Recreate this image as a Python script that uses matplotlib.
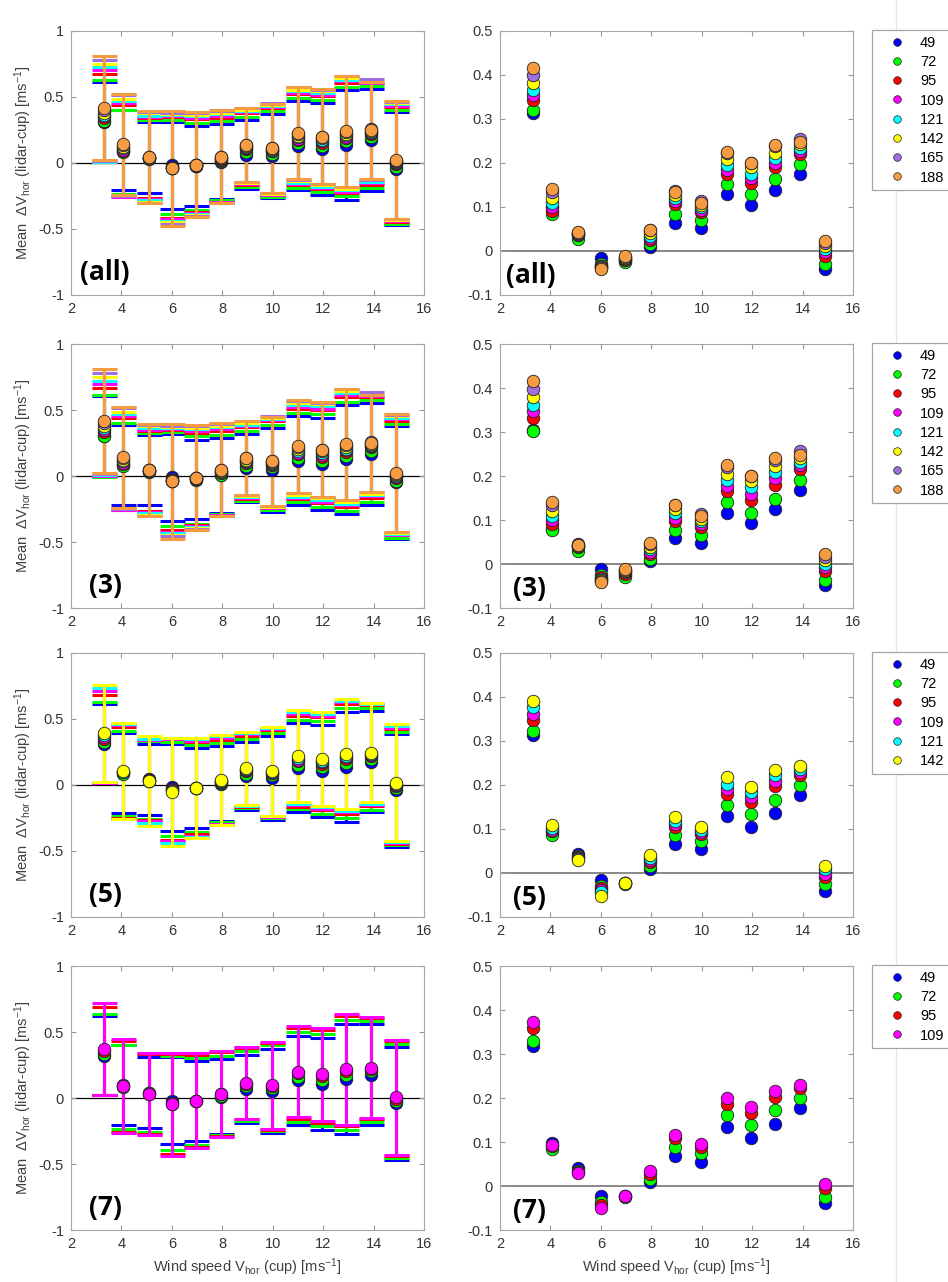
import numpy as np
import matplotlib
matplotlib.use("Agg")
import matplotlib.pyplot as plt
from matplotlib.lines import Line2D
from matplotlib.ticker import FuncFormatter

plt.rcParams["font.family"] = ["Liberation Sans", "DejaVu Sans"]
plt.rcParams["axes.unicode_minus"] = False
plt.rcParams["mathtext.fontset"] = "custom"
plt.rcParams["mathtext.rm"] = "Liberation Sans"
plt.rcParams["mathtext.it"] = "Liberation Sans:italic"

# ---------------------------------------------------------------------------
# data
# ---------------------------------------------------------------------------
wind_bins = [3.3, 4.05, 5.1, 6.02, 6.97, 7.95, 8.96, 9.96, 11.02, 11.95, 12.92, 13.9, 14.9]

heights = ["49", "72", "95", "109", "121", "142", "165", "188"]
colors = ["#0000ff", "#00ff00", "#ff0000", "#ff00ff", "#00ffff", "#ffff00", "#a16ee0", "#f59b42"]

# standard deviation of the difference, per height
std_49 = [0.300, 0.303, 0.268, 0.330, 0.300, 0.284, 0.258, 0.320, 0.337, 0.347, 0.415, 0.385, 0.427]
std_72 = [0.310, 0.320, 0.296, 0.355, 0.330, 0.300, 0.265, 0.325, 0.340, 0.349, 0.416, 0.385, 0.430]
std_95 = [0.335, 0.345, 0.303, 0.380, 0.350, 0.318, 0.270, 0.330, 0.343, 0.351, 0.417, 0.383, 0.435]
std_109 = [0.350, 0.355, 0.310, 0.390, 0.360, 0.325, 0.272, 0.332, 0.345, 0.352, 0.418, 0.380, 0.437]
std_121 = [0.358, 0.360, 0.320, 0.400, 0.370, 0.335, 0.275, 0.335, 0.347, 0.354, 0.418, 0.378, 0.440]
std_142 = [0.367, 0.365, 0.339, 0.410, 0.380, 0.340, 0.277, 0.337, 0.348, 0.355, 0.419, 0.375, 0.442]
std_165 = [0.385, 0.380, 0.345, 0.420, 0.390, 0.350, 0.280, 0.340, 0.350, 0.356, 0.420, 0.380, 0.445]
std_188 = [0.395, 0.383, 0.350, 0.433, 0.395, 0.353, 0.280, 0.340, 0.350, 0.357, 0.420, 0.366, 0.446]
stds = [std_49, std_72, std_95, std_109, std_121, std_142, std_165, std_188]

# mean difference lidar-cup, case "(all)"
all_49 = [0.314, 0.100, 0.040, -0.017, -0.022, 0.008, 0.064, 0.053, 0.129, 0.105, 0.138, 0.176, -0.042]
all_72 = [0.320, 0.085, 0.027, -0.030, -0.026, 0.017, 0.085, 0.070, 0.153, 0.130, 0.163, 0.197, -0.029]
all_95 = [0.343, 0.092, 0.036, -0.033, -0.020, 0.025, 0.106, 0.088, 0.176, 0.155, 0.190, 0.220, -0.011]
all_109 = [0.355, 0.100, 0.037, -0.035, -0.018, 0.030, 0.113, 0.093, 0.185, 0.165, 0.200, 0.228, -0.002]
all_121 = [0.367, 0.110, 0.038, -0.036, -0.017, 0.035, 0.120, 0.100, 0.195, 0.174, 0.212, 0.235, 0.005]
all_142 = [0.382, 0.121, 0.040, -0.037, -0.015, 0.040, 0.128, 0.105, 0.208, 0.190, 0.223, 0.243, 0.012]
all_165 = [0.399, 0.133, 0.042, -0.039, -0.013, 0.047, 0.137, 0.113, 0.222, 0.200, 0.238, 0.254, 0.018]
all_188 = [0.415, 0.142, 0.044, -0.041, -0.012, 0.047, 0.134, 0.110, 0.226, 0.200, 0.240, 0.248, 0.023]

# case "(3)"
c3_49 = [0.305, 0.080, 0.046, -0.011, -0.025, 0.006, 0.058, 0.047, 0.116, 0.093, 0.126, 0.169, -0.047]
c3_72 = [0.303, 0.078, 0.029, -0.025, -0.030, 0.011, 0.077, 0.065, 0.140, 0.117, 0.148, 0.190, -0.036]
c3_95 = [0.332, 0.091, 0.038, -0.030, -0.022, 0.022, 0.098, 0.084, 0.167, 0.146, 0.180, 0.216, -0.015]
c3_109 = [0.347, 0.100, 0.040, -0.033, -0.019, 0.028, 0.105, 0.090, 0.178, 0.158, 0.195, 0.225, -0.007]
c3_121 = [0.362, 0.110, 0.041, -0.035, -0.017, 0.033, 0.115, 0.097, 0.190, 0.175, 0.208, 0.232, 0.000]
c3_142 = [0.380, 0.120, 0.042, -0.036, -0.015, 0.038, 0.125, 0.103, 0.205, 0.188, 0.222, 0.240, 0.010]
c3_165 = [0.398, 0.133, 0.043, -0.038, -0.013, 0.045, 0.135, 0.113, 0.220, 0.200, 0.236, 0.256, 0.017]
c3_188 = [0.415, 0.142, 0.044, -0.041, -0.012, 0.047, 0.135, 0.110, 0.224, 0.200, 0.240, 0.248, 0.023]

# case "(5)"
c5_49 = [0.314, 0.090, 0.044, -0.017, -0.023, 0.008, 0.067, 0.054, 0.129, 0.105, 0.137, 0.177, -0.040]
c5_72 = [0.322, 0.086, 0.038, -0.030, -0.025, 0.017, 0.087, 0.072, 0.155, 0.133, 0.165, 0.199, -0.026]
c5_95 = [0.348, 0.095, 0.036, -0.033, -0.023, 0.025, 0.105, 0.088, 0.180, 0.161, 0.197, 0.222, -0.009]
c5_109 = [0.362, 0.098, 0.034, -0.038, -0.023, 0.030, 0.112, 0.093, 0.190, 0.172, 0.210, 0.230, -0.003]
c5_121 = [0.377, 0.102, 0.032, -0.043, -0.022, 0.033, 0.118, 0.098, 0.203, 0.184, 0.222, 0.236, 0.008]
c5_142 = [0.391, 0.108, 0.029, -0.052, -0.022, 0.040, 0.127, 0.105, 0.218, 0.195, 0.235, 0.244, 0.017]

# case "(7)"
c7_49 = [0.319, 0.098, 0.040, -0.022, -0.022, 0.010, 0.068, 0.055, 0.133, 0.108, 0.142, 0.177, -0.039]
c7_72 = [0.330, 0.084, 0.035, -0.036, -0.026, 0.017, 0.089, 0.074, 0.161, 0.139, 0.173, 0.201, -0.024]
c7_95 = [0.358, 0.090, 0.032, -0.043, -0.023, 0.027, 0.108, 0.088, 0.186, 0.165, 0.203, 0.222, -0.005]
c7_109 = [0.373, 0.093, 0.029, -0.049, -0.022, 0.033, 0.116, 0.095, 0.199, 0.179, 0.217, 0.230, 0.004]

cases = [
    ("(all)", [all_49, all_72, all_95, all_109, all_121, all_142, all_165, all_188]),
    ("(3)", [c3_49, c3_72, c3_95, c3_109, c3_121, c3_142, c3_165, c3_188]),
    ("(5)", [c5_49, c5_72, c5_95, c5_109, c5_121, c5_142]),
    ("(7)", [c7_49, c7_72, c7_95, c7_109]),
]

# ---------------------------------------------------------------------------
# layout (pixel boxes of the original figure)
# ---------------------------------------------------------------------------
W, H = 948, 1282
row_tops = [31, 344, 653, 966]
ax_h = 264
ax_w = 353

fig = plt.figure(figsize=(W / 100, H / 100), dpi=100)
fig.add_artist(Line2D([896 / W, 896 / W], [0, 1], color="#e6e6e6", lw=1,
                      transform=fig.transFigure, zorder=-1))

fmt = FuncFormatter(lambda v, p: "%g" % round(v, 3))


def style_axes(ax):
    for sp in ax.spines.values():
        sp.set_color("#a6a6a6")
        sp.set_linewidth(0.8)
    ax.tick_params(direction="in", top=True, right=True, length=3.5, width=0.8,
                   color="#999999", labelcolor="#333333", labelsize=10.5, pad=5)
    ax.yaxis.set_major_formatter(fmt)
    ax.set_xlim(2, 16)
    ax.set_xticks(range(2, 17, 2))


ylabel = "Mean  ΔV$_{\\mathrm{hor}}$ (lidar-cup) [ms$^{-1}$]"
xlabel = "Wind speed V$_{\\mathrm{hor}}$ (cup) [ms$^{-1}$]"
tag_font = dict(family=["Open Sans", "DejaVu Sans"], fontweight="bold", fontsize=19)

for r, (tag, series) in enumerate(cases):
    top = row_tops[r]
    y0 = 1 - (top + ax_h) / H
    axL = fig.add_axes([71 / W, y0, ax_w / W, ax_h / H])
    axR = fig.add_axes([500 / W, y0, ax_w / W, ax_h / H])

    # left: mean +- std with caps
    axL.axhline(0, color="black", lw=0.9, zorder=1)
    for i, vals in enumerate(series):
        axL.errorbar(wind_bins, vals, yerr=stds[i], fmt="none", ecolor=colors[i],
                     elinewidth=2.2, capsize=9, capthick=2.2, zorder=2)
    for i, vals in enumerate(series):
        axL.plot(wind_bins, vals, "o", ms=9, mfc=colors[i], mec="#222222", mew=0.6, zorder=3)
    style_axes(axL)
    axL.set_ylim(-1, 1)
    axL.set_yticks([-1, -0.5, 0, 0.5, 1])
    axL.set_ylabel(ylabel, fontsize=10.5, color="#404040")
    axL.yaxis.set_label_coords(-0.105, 0.5)
    tx = 2.35 if r == 0 else 2.7
    axL.text(tx, -0.83, tag, ha="left", va="center", **tag_font)

    # right: means only
    axR.axhline(0, color="#808080", lw=1.3, zorder=1)
    for i, vals in enumerate(series):
        axR.plot(wind_bins, vals, "o", ms=9, mfc=colors[i], mec="#222222", mew=0.6, zorder=3)
    style_axes(axR)
    axR.set_ylim(-0.1, 0.5)
    axR.set_yticks(np.arange(-0.1, 0.51, 0.1))
    tx = 2.22 if r == 0 else 2.5
    axR.text(tx, -0.055, tag, ha="left", va="center", **tag_font)

    if r == len(cases) - 1:
        axL.set_xlabel(xlabel, fontsize=10.5, color="#404040", labelpad=4)
        axR.set_xlabel(xlabel, fontsize=10.5, color="#404040", labelpad=4)

    handles = [Line2D([], [], marker="o", ls="none", ms=5.5, mfc=colors[i],
                      mec="#222222", mew=0.5) for i in range(len(series))]
    leg = axR.legend(handles, heights[:len(series)], loc="upper left",
                     bbox_to_anchor=(872 / W, 1 - (top - 1) / H),
                     bbox_transform=fig.transFigure, borderaxespad=0,
                     fontsize=10.5, handlelength=2.6, handletextpad=0.3,
                     labelspacing=0.36, borderpad=0.4, fancybox=False,
                     framealpha=1, edgecolor="#a6a6a6")
    leg.get_frame().set_linewidth(0.9)

fig.savefig("out.png", dpi=100, facecolor="white")
